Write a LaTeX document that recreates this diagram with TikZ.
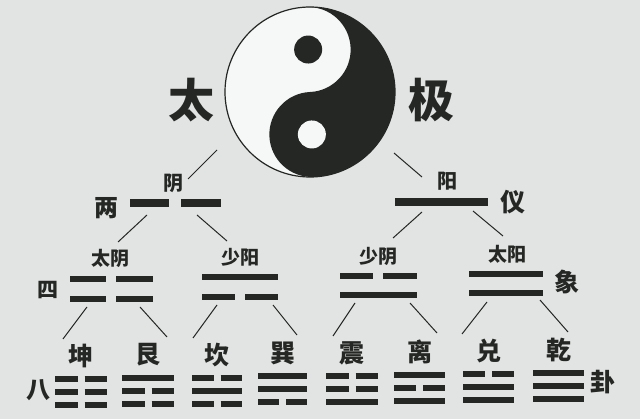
\documentclass[tikz,border=0pt]{standalone}
\usepackage{fontspec}
\newfontfamily\cjk{Noto Sans CJK SC}
\definecolor{paper}{RGB}{226,227,227}
\definecolor{ink}{RGB}{36,39,36}
\tikzset{
	yao/.style={line width=6.5pt,ink},
	link/.style={line width=1pt,ink},
	zi/.style={font=\cjk\bfseries\fontsize{#1}{#1}\selectfont,text=ink,inner sep=0pt},
}
% one line of a gram: left x, right x, y, 1 = yang, 0 = yin
\newcommand{\yaoline}[4]{%
	\ifnum#4=1 \draw[yao](#1,#3)--(#2,#3);%
	\else \draw[yao](#1,#3)--({(#1+#2)/2-3.5},#3)({(#1+#2)/2+3.5},#3)--(#2,#3);\fi}
\begin{document}
\begin{tikzpicture}[x=1pt,y=1pt]
				\fill[paper] (0,0) rectangle (640,-419);
				\useasboundingbox (0,0) rectangle (640,-419);
				% taiji
				\begin{scope}[shift={(310,-92)},rotate=2.5]
					\draw[ink,line width=1.2pt,fill=white!70!paper] (0,0)circle(85);
					\fill[ink] (0,85)arc[start angle=90,end angle=-90,radius=85]arc[start angle=-90,end angle=-270,radius=42.5]arc[start angle=-90,end angle=90,radius=42.5]--cycle;
					\fill[ink] (0,42.5)circle(14);
					\fill[white!70!paper] (0,-42.5)circle(14);
				\end{scope}
				\node[zi=46] (tai) at (191,-100){太};
				\node[zi=46] (ji) at (431,-100){极};
				% two yi
				\node[zi=20] (yin) at (173,-183){阴};
				\node[zi=20] (yang) at (447,-181){阳};
				\node[zi=24] (liang) at (106,-208){两};
				\node[zi=25] (yi) at (513,-202){仪};
				\draw[yao,line width=8pt] (130,-203)--(169,-203)(181,-203)--(221,-203);
				\draw[yao,line width=8pt] (395,-202)--(488,-202);
				\coordinate (t1) at (217,-150);\coordinate (t2) at (188,-179);
				\coordinate (t3) at (394,-153);\coordinate (t4) at (422,-177);
				\draw[link] (t1)--(t2)(t3)--(t4);
				% four xiang
				\node[zi=19] (taiyin) at (110,-258){太阴};
				\node[zi=19] (shaoyang) at (240,-257){少阳};
				\node[zi=19] (shaoyin) at (378,-256){少阴};
				\node[zi=19] (taiyang) at (507,-254){太阳};
				\node[zi=21] (si) at (48,-290){四};
				\node[zi=25] (xiang) at (567,-282){象};
				\draw[yao] (70,-279)--(106,-279)(116,-279)--(153,-279)(70,-299)--(106,-299)(116,-299)--(153,-299);
				\draw[yao] (202,-277)--(278,-277)(202,-297)--(235,-297)(245,-297)--(278,-297);
				\draw[yao] (340,-276)--(373,-276)(383,-276)--(417,-276)(340,-295)--(417,-295);
				\draw[yao] (469,-274)--(543,-274)(469,-293)--(543,-293);
				\foreach \a/\b/\c/\d [count=\i] in {147/215/118/242,197/215/227/241,422/212/393/238,473/211/503/236}{
					\coordinate (u\i) at (\a,-\b);\coordinate (v\i) at (\c,-\d);
					\draw[link] (u\i)--(v\i);
				}
				% eight gua
				\node[zi=24] (ba) at (38,-390){八};
				\node[zi=25] (gua) at (603,-382){卦};
				\foreach \l/\r/\y/\p/\q/\s/\nm [count=\i] in {55/107/379/0/0/0/坤,122/174/378/1/0/0/艮,192/242/378/0/1/0/坎,258/307/376/1/1/0/巽,326/378/376/0/0/1/震,394/445/375/1/0/1/离,463/514/374/0/1/1/兑,533/584/373/1/1/1/乾}{
					\node[zi=25] (g\i) at ({(\l+\r)/2},{-\y+23}){\nm};
					\yaoline{\l}{\r}{-\y}{\p}
					\yaoline{\l}{\r}{-\y-13}{\q}
					\yaoline{\l}{\r}{-\y-26}{\s}
				}
				\foreach \a/\b/\c/\d [count=\i] in {87/307/63/339,140/307/167/337,217/305/193/338,273/305/297/335,355/303/333/336,410/303/437/333,487/302/462/334,540/300/568/332}{
					\coordinate (p\i) at (\a,-\b);\coordinate (q\i) at (\c,-\d);
					\draw[link] (p\i)--(q\i);
				}
			\end{tikzpicture}
\end{document}
